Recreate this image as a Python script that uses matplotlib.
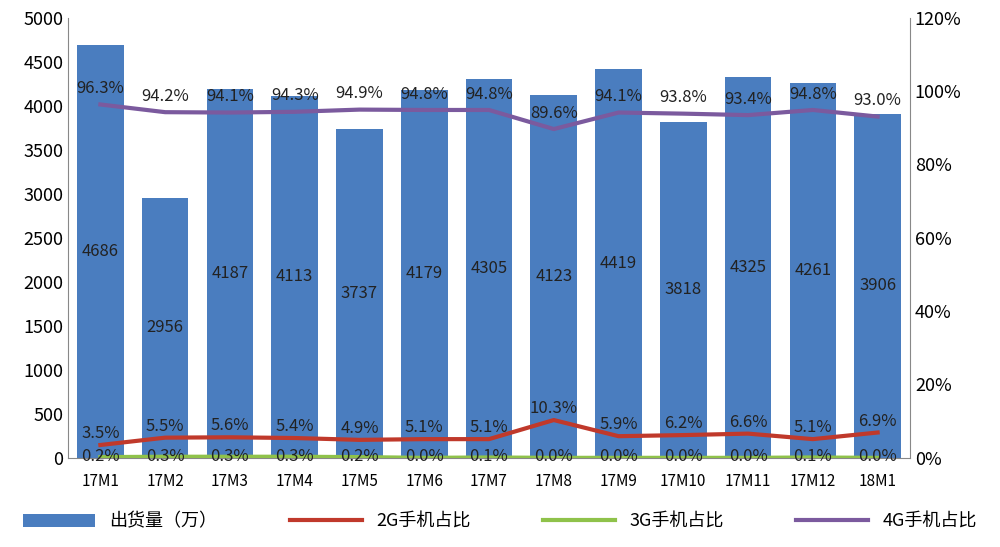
import numpy as np
import matplotlib
matplotlib.use("Agg")
import matplotlib.pyplot as plt

plt.rcParams['font.family'] = ['Noto Sans CJK SC', 'DejaVu Sans']

months = ['17M1', '17M2', '17M3', '17M4', '17M5', '17M6', '17M7', '17M8',
          '17M9', '17M10', '17M11', '17M12', '18M1']
shipments = [4686, 2956, 4187, 4113, 3737, 4179, 4305, 4123, 4419, 3818, 4325, 4261, 3906]
share_2g = [3.5, 5.5, 5.6, 5.4, 4.9, 5.1, 5.1, 10.3, 5.9, 6.2, 6.6, 5.1, 6.9]
share_3g = [0.2, 0.3, 0.3, 0.3, 0.2, 0.0, 0.1, 0.0, 0.0, 0.0, 0.0, 0.1, 0.0]
share_4g = [96.3, 94.2, 94.1, 94.3, 94.9, 94.8, 94.8, 89.6, 94.1, 93.8, 93.4, 94.8, 93.0]

fig = plt.figure(figsize=(10, 5.47), dpi=100)
ax = fig.add_axes([0.068, 0.163, 0.842, 0.805])
x = np.arange(len(months))

bars = ax.bar(x, shipments, width=0.72, color='#4a7dbf', label='出货量（万）')
for xi, v in zip(x, shipments):
    ax.text(xi, v / 2, str(v), ha='center', va='center', fontsize=12, color='#222222')
ax.set_ylim(0, 5000)
ax.set_yticks(range(0, 5001, 500))
ax.set_xlim(-0.5, len(months) - 0.5)
ax.set_xticks(x)
ax.set_xticklabels(months, fontsize=11)
ax.tick_params(axis='y', labelsize=13, length=0)
ax.tick_params(axis='x', length=0, pad=11)
for s in ['top', 'right']:
    ax.spines[s].set_visible(False)
ax.spines['left'].set_color('#888888')
ax.spines['bottom'].set_color('#888888')

ax2 = ax.twinx()
ax2.set_ylim(0, 120)
ax2.set_yticks(range(0, 121, 20))
ax2.set_yticklabels([f'{t}%' for t in range(0, 121, 20)])
ax2.tick_params(axis='y', labelsize=13, length=0)
for s in ['top', 'left', 'bottom']:
    ax2.spines[s].set_visible(False)
ax2.spines['right'].set_color('#888888')

l2, = ax2.plot(x, share_2g, color='#c0392b', lw=3, label='2G手机占比')
l3, = ax2.plot(x, share_3g, color='#8fc24a', lw=3, label='3G手机占比')
l4, = ax2.plot(x, share_4g, color='#7b5a9e', lw=3, label='4G手机占比')

for xi, a, b, c in zip(x, share_2g, share_3g, share_4g):
    ax2.text(xi, a + 0.8, f'{a:.1f}%', ha='center', va='bottom', fontsize=12, color='#222222')
    ax2.text(xi, 0.3, f'{b:.1f}%', ha='center', va='center', fontsize=12, color='#222222')
    ax2.text(xi, c + 2, f'{c:.1f}%', ha='center', va='bottom', fontsize=12, color='#222222')

fig.legend([bars, l2, l3, l4], ['出货量（万）', '2G手机占比', '3G手机占比', '4G手机占比'],
           loc='lower center', ncol=4, frameon=False, fontsize=13,
           bbox_to_anchor=(0.5, 0.0), columnspacing=4, handlelength=4)

fig.savefig('out.png', dpi=100)
